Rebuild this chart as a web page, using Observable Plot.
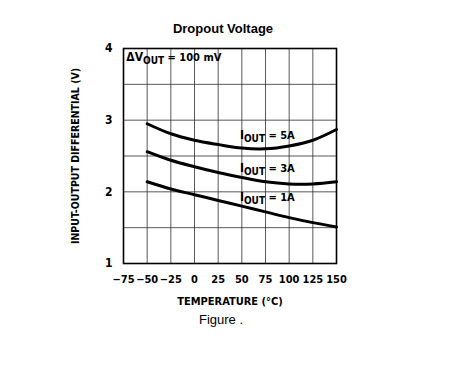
<!DOCTYPE html>
<html>
<head>
<meta charset="utf-8">
<script src="https://cdn.jsdelivr.net/npm/d3@7"></script>
<script src="https://cdn.jsdelivr.net/npm/@observablehq/plot@0.6"></script>
<style>
  body { margin: 0; background: #fff; }
  #wrap { position: relative; width: 449px; height: 377px; }
  .lbl { position: absolute; color: #000; white-space: nowrap; }
  .narrow { font-family: "DejaVu Sans Condensed", "Liberation Sans Narrow", sans-serif; font-weight: bold; font-stretch: condensed; }
</style>
</head>
<body>
<div id="wrap">
  <div class="lbl" style="left:0;width:446px;top:21px;text-align:center;font:bold 13px 'Liberation Sans', Arial, sans-serif;">Dropout Voltage</div>
  <div class="lbl narrow" style="left:0;width:460px;top:295px;text-align:center;font-size:11px;">TEMPERATURE (°C)</div>
  <div class="lbl" style="left:0;width:442px;top:312px;text-align:center;font:13px 'Liberation Sans', Arial, sans-serif;">Figure .</div>
  <div class="lbl narrow" style="left:75px;top:156px;font-size:10.5px;transform:translate(-50%,-50%) rotate(-90deg);">INPUT-OUTPUT DIFFERENTIAL (V)</div>
</div>
<script>
const temps = [-50, -25, 0, 25, 50, 75, 100, 125, 150];
const v5A = [2.95, 2.81, 2.72, 2.66, 2.61, 2.60, 2.64, 2.72, 2.87];
const v3A = [2.56, 2.44, 2.35, 2.27, 2.20, 2.14, 2.11, 2.11, 2.14];
const v1A = [2.14, 2.04, 1.96, 1.88, 1.80, 1.72, 1.64, 1.57, 1.51];
const xTicks = [-75, -50, -25, 0, 25, 50, 75, 100, 125, 150];
const yTicks = [1, 2, 3, 4];
const yGrid = [1.5, 2, 2.5, 3, 3.5];
const curveLabels = [
  {x: 48, y: 2.79, rest: "\u00a0=\u00a05A"},
  {x: 48, y: 2.33, rest: "\u00a0=\u00a03A"},
  {x: 48, y: 1.925, rest: "\u00a0=\u00a01A"}
];
const noteLabel = [{x: -72, y: 3.87}];

const series = [["5A", v5A], ["3A", v3A], ["1A", v1A]];
const data = series.flatMap(([name, vals]) => temps.map((t, i) => ({t, v: vals[i], name})));

const FONT = "'DejaVu Sans Condensed', 'Liberation Sans Narrow', sans-serif";
const plot = Plot.plot({
  width: 449,
  height: 377,
  marginLeft: 123,
  marginRight: 113,
  marginTop: 48,
  marginBottom: 114,
  style: {fontFamily: FONT, fontSize: "11px", background: "#fff", color: "#000", fontStretch: "condensed"},
  x: {domain: [-75, 150]},
  y: {domain: [1, 4]},
  marks: [
    Plot.gridX(xTicks, {stroke: "#222", strokeOpacity: 0.75, strokeWidth: 1}),
    Plot.gridY(yGrid, {stroke: "#222", strokeOpacity: 0.75, strokeWidth: 1}),
    Plot.frame({stroke: "#000", strokeWidth: 1.6}),
    Plot.axisX(xTicks, {tickSize: 0, tickPadding: 12, fontWeight: "bold", fontSize: 11, label: null, tickFormat: d => d < 0 ? "\u2212" + (-d) : String(d)}),
    Plot.axisY(yTicks, {tickSize: 0, tickPadding: 11, fontWeight: "bold", fontSize: 12, label: null, tickFormat: d => String(d)}),
    Plot.line(data, {x: "t", y: "v", z: "name", curve: "catmull-rom", stroke: "#000", strokeWidth: 3}),
    Plot.text(curveLabels, {x: "x", y: "y", text: d => "IOUT" + d.rest, textAnchor: "start", fontWeight: "bold", fontSize: 11, fill: "#000"}),
    Plot.text(noteLabel, {x: "x", y: "y", text: () => "ΔVOUT\u00a0=\u00a0100\u00a0mV", textAnchor: "start", fontWeight: "bold", fontSize: 11, fill: "#000"})
  ]
});
document.getElementById("wrap").prepend(plot);
plot.style.position = "absolute";
plot.style.left = "0";
plot.style.top = "0";

d3.select(plot).selectAll("text").each(function() {
  const s = this.textContent;
  let m = s.match(/^(ΔV|I)OUT(.*)$/);
  if (!m) return;
  const el = d3.select(this);
  el.text(null);
  el.append("tspan").text(m[1]).style("font-size", "12px");
  el.append("tspan").text("OUT").attr("dy", "3px").style("font-size", "10px");
  el.append("tspan").text(m[2]).attr("dy", "-3px");
});
</script>
</body>
</html>
